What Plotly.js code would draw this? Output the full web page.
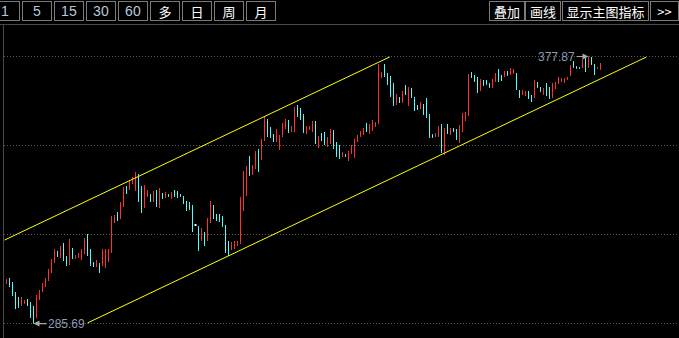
<!DOCTYPE html>
<html>
<head>
<meta charset="utf-8">
<script src="https://cdn.plot.ly/plotly-3.0.1.min.js"></script>
<style>
html,body{margin:0;padding:0;background:#000;}
#chart{width:679px;height:338px;}
</style>
</head>
<body>
<div id="chart"></div>
<script>
// ---- data (prices) ----
const open = [
299.6,300.9,299.5,296.0,294.4,292.2,292.7,293.8,292.7,291.2,
288.2,294.3,297.0,298.8,300.9,303.6,307.1,310.3,308.8,313.0,
308.5,306.5,311.3,308.2,308.6,308.1,310.2,315.9,310.9,306.6,
305.6,306.1,306.1,305.4,307.4,310.6,320.8,323.7,322.2,326.4,
332.7,332.2,334.2,332.0,336.8,332.6,326.1,329.7,330.0,328.1,
331.3,326.1,330.4,329.4,330.1,329.0,331.4,331.1,330.1,329.3,
327.6,327.2,326.0,319.7,318.8,314.6,316.8,314.7,320.9,326.1,
323.1,323.1,322.3,319.1,313.7,311.5,311.8,312.8,313.7,325.1,
330.2,343.0,337.3,339.5,345.4,342.6,349.2,355.8,353.1,350.7,
348.8,346.1,350.6,353.3,355.5,352.2,352.3,360.6,359.6,357.5,
351.5,352.8,352.2,355.1,346.7,351.1,351.3,347.0,348.1,352.0,
347.9,346.8,343.5,344.0,342.2,344.6,343.4,348.7,350.4,351.1,
354.5,351.5,352.6,353.8,355.1,370.8,374.8,371.7,370.6,368.2,
361.6,363.6,362.3,367.6,361.3,366.6,363.4,360.8,360.1,361.0,
363.0,357.5,350.9,350.4,350.5,354.0,344.4,354.1,351.1,352.9,
352.4,348.5,352.3,356.0,357.8,372.2,371.1,370.3,366.4,369.4,
369.4,368.4,367.4,369.5,373.1,371.1,371.2,372.5,371.8,372.1,
371.7,366.0,364.9,364.5,365.6,364.2,364.0,368.7,367.0,364.9,
368.3,366.9,364.0,367.0,368.7,369.3,369.0,370.0,371.5,376.0,
374.4,374.1,374.2,377.2,374.3,377.3,374.9,373.7,373.5];
const high = [
301.07,301.42,300.03,296.58,294.86,294.86,293.82,294.17,293.13,291.75,
295.55,297.27,299.69,301.42,304.52,307.97,311.43,310.74,312.46,313.50,
309.01,314.88,311.77,309.35,310.04,311.43,315.22,316.60,311.43,306.94,
307.63,306.59,311.43,311.43,311.43,322.82,323.16,324.20,327.65,332.83,
333.17,335.24,336.28,338.01,337.32,333.17,333.52,331.79,330.41,331.45,
331.79,332.48,330.76,331.10,330.41,331.10,331.79,331.45,330.41,329.72,
328.00,327.65,326.61,319.71,319.37,318.67,317.29,322.13,328.00,326.61,
323.51,323.51,322.82,319.71,314.19,313.84,314.19,314.19,329.38,338.35,
340.08,343.53,340.42,345.25,345.95,349.40,356.99,356.30,353.54,351.12,
352.85,350.78,354.92,356.30,355.96,353.88,360.44,361.13,360.10,358.03,
353.88,353.88,355.61,355.61,350.43,351.47,351.81,350.09,352.85,352.50,
348.36,347.33,344.91,344.22,345.25,347.33,349.40,350.78,352.16,353.19,
354.92,354.58,355.96,355.27,375.29,372.53,375.29,372.18,371.15,368.73,
364.93,363.90,365.97,368.04,367.35,367.00,363.90,361.13,362.17,361.48,
363.55,358.03,351.12,351.47,353.88,354.58,353.19,354.58,353.19,353.19,
352.85,354.23,358.37,358.72,371.84,372.53,371.49,370.80,370.11,369.76,
369.76,368.73,370.11,372.18,373.56,371.49,372.87,372.87,373.91,373.56,
372.18,366.31,366.31,365.97,365.97,364.59,369.76,369.07,367.35,367.00,
368.73,367.35,368.73,369.07,370.80,370.46,370.46,370.80,374.94,376.32,
374.60,374.25,377.01,377.70,377.87,377.70,375.29,374.25,375.63];
const low = [
299.34,298.31,295.20,290.71,291.06,291.75,292.44,291.75,287.61,285.69,
287.61,293.82,296.58,298.31,300.38,303.14,306.59,308.66,308.32,307.28,
305.56,305.90,307.97,307.97,308.32,307.63,309.70,309.01,305.56,305.21,
305.21,303.14,305.56,304.87,306.94,310.04,320.40,321.09,321.78,325.92,
330.41,331.79,333.86,331.45,327.65,323.85,325.58,329.38,327.65,327.65,
325.92,325.58,328.69,329.03,329.38,328.69,329.38,329.03,329.38,326.96,
324.54,324.89,317.29,319.71,310.74,314.19,312.46,314.19,320.40,321.78,
321.09,320.75,319.02,310.04,309.01,311.08,311.43,312.46,313.15,324.54,
329.72,336.63,336.97,339.04,338.01,342.15,348.71,350.09,349.74,348.36,
348.36,345.60,350.09,352.85,351.47,351.81,351.81,356.99,355.96,351.47,
351.12,352.50,351.81,347.67,346.29,348.71,347.33,346.64,347.67,345.95,
343.18,342.49,343.18,343.18,341.80,344.22,342.84,348.36,350.09,350.78,
351.81,351.12,352.16,353.54,354.58,370.46,370.80,368.04,363.90,360.79,
361.13,361.82,361.82,364.59,360.79,363.55,359.06,359.41,359.75,357.68,
356.65,349.74,349.74,350.09,350.09,344.56,343.87,351.12,350.78,351.81,
349.05,348.02,351.81,355.61,357.34,370.46,369.07,365.28,365.97,367.69,
368.04,367.00,367.00,369.07,369.07,369.42,370.80,371.15,371.49,371.84,
366.31,363.55,364.59,364.24,363.21,362.17,363.55,367.00,365.62,364.59,
364.24,363.21,363.55,366.66,368.38,369.07,368.73,369.76,371.15,373.91,
373.56,373.56,373.91,372.53,373.91,374.94,371.49,373.56,373.22];
const close = [
300.8,298.8,295.8,291.4,291.6,294.3,293.5,292.1,288.2,286.4,
295.0,296.8,299.2,300.9,304.0,307.4,310.9,309.1,311.9,307.8,
306.1,314.2,308.5,309.1,309.8,310.9,314.7,309.6,306.1,305.5,
307.2,303.6,310.9,310.9,310.9,322.2,322.7,321.5,327.1,332.3,
330.8,334.8,335.9,337.4,328.3,324.5,332.9,331.4,328.1,331.0,
326.5,332.0,329.0,330.7,329.6,330.8,329.7,329.4,329.6,327.4,
325.0,325.3,318.0,319.7,311.3,318.2,313.0,321.6,327.4,322.3,
321.5,321.2,319.5,310.7,309.5,313.4,313.8,313.9,328.8,337.8,
339.5,337.1,340.0,344.7,338.6,348.9,356.4,350.6,350.2,348.8,
352.4,350.3,354.4,355.8,352.0,353.5,359.9,357.5,356.4,352.0,
353.5,353.6,355.1,348.2,350.0,349.1,347.8,349.7,352.4,346.5,
343.7,343.0,344.6,343.4,344.8,346.9,348.9,350.4,351.8,352.8,
352.2,354.1,355.5,355.0,374.6,372.2,371.3,368.5,364.5,361.3,
364.5,362.2,365.5,365.0,366.8,364.0,359.5,359.7,361.8,358.1,
357.2,350.3,350.0,351.2,353.4,345.1,352.7,351.5,352.8,352.1,
349.5,353.7,357.8,358.3,371.3,370.8,369.4,365.8,369.7,368.0,
368.3,367.3,369.7,371.8,369.5,369.8,372.5,371.4,373.6,373.3,
366.8,364.0,366.0,365.7,363.6,362.5,369.2,367.3,365.9,366.7,
364.7,363.6,368.3,368.8,370.5,370.2,370.2,370.6,374.6,374.2,
373.8,373.7,376.7,373.0,377.3,375.3,371.9,374.1,375.3];

// channel lines (bar index, price)
const upperX = [-0.67, 127.7];
const upperY = [314.5, 377.7];
const lowerX = [27.0, 213.3];
const lowerY = [285.9, 377.7];

// dotted price grid levels
const gridPrices = [285.69, 316.42, 347.14, 377.87];

// extreme labels
const highIdx = 194, highLabel = '377.87';
const lowIdx = 9, lowLabel = '285.69';

// toolbar
const tbLabels = ['1','5','15','30','60','多','日','周','月','叠加','画线','显示主图指标','>>'];
const tbLeft   = [-10,22,54,86,118,150,182,214,246,489,525,562,650];
const tbWidth  = [30,30,30,30,30,30,30,30,30,36,36,87,29];

// ---- build ----
const idx = open.map((_, i) => i);
const dojiX = [], dojiY = [];
idx.forEach(i => { if (open[i] === close[i] && high[i] === low[i]) { dojiX.push(i); dojiY.push(close[i]); } });

const W = 679, H = 338, ML = 4, MT = 25;
const PW = W - ML, PH = H - MT;

const traces = [
  {
    type: 'candlestick', x: idx, open: open, high: high, low: low, close: close,
    increasing: {line: {color: '#ff3232', width: 1}, fillcolor: '#ff3232'},
    decreasing: {line: {color: '#54ffff', width: 1}, fillcolor: '#54ffff'},
    whiskerwidth: 0, hoverinfo: 'skip', showlegend: false
  },
  {
    type: 'scatter', mode: 'markers', x: dojiX, y: dojiY,
    marker: {symbol: 'square', size: 2, color: '#ffffff', line: {width: 0}},
    hoverinfo: 'skip', showlegend: false
  },
  {
    type: 'scatter', mode: 'lines', x: upperX, y: upperY,
    line: {color: '#ffff00', width: 1}, hoverinfo: 'skip', showlegend: false
  },
  {
    type: 'scatter', mode: 'lines', x: lowerX, y: lowerY,
    line: {color: '#ffff00', width: 1}, hoverinfo: 'skip', showlegend: false
  }
];

const annotations = [];
tbLabels.forEach((t, k) => {
  const isNum = /^[0-9]+$/.test(t);
  annotations.push({
    xref: 'paper', yref: 'paper',
    x: (tbLeft[k] - ML) / PW, y: (H - 1) / PH,
    xanchor: 'left', yanchor: 'top',
    text: t, showarrow: false,
    width: tbWidth[k] - 2, height: 18,
    align: 'center', valign: 'middle',
    bgcolor: '#000000', bordercolor: '#7a7a7a', borderwidth: 1, borderpad: 0,
    font: {family: isNum ? 'Liberation Sans, Arial, sans-serif' : '"Noto Sans CJK SC", sans-serif',
           size: isNum ? 14 : 13, color: isNum ? '#b8c8d8' : '#ffffff'}
  });
});
annotations.push({
  x: highIdx, y: high[highIdx], xref: 'x', yref: 'y', text: highLabel,
  showarrow: true, ax: -32, ay: 0, arrowhead: 2, arrowsize: 1, arrowwidth: 1.2,
  arrowcolor: '#a8a8a8', standoff: 0,
  font: {family: 'Liberation Sans, Arial, sans-serif', size: 12, color: '#8f9cb2'}
});
annotations.push({
  x: lowIdx, y: low[lowIdx], xref: 'x', yref: 'y', text: lowLabel,
  showarrow: true, ax: 33, ay: 0, arrowhead: 2, arrowsize: 1, arrowwidth: 1.2,
  arrowcolor: '#a8a8a8', standoff: 0,
  font: {family: 'Liberation Sans, Arial, sans-serif', size: 12, color: '#8f9cb2'}
});

const layout = {
  width: W, height: H,
  margin: {l: ML, r: 0, t: MT, b: 0, pad: 0},
  paper_bgcolor: '#000000', plot_bgcolor: '#000000',
  showlegend: false, hovermode: false, dragmode: false,
  boxgap: 1,
  xaxis: {
    range: [-0.8333, -0.8333 + PW / 3], showgrid: false, zeroline: false,
    showticklabels: false, ticks: '', showline: false,
    rangeslider: {visible: false}, fixedrange: true
  },
  yaxis: {
    range: [280.70, 388.75], showgrid: true, gridcolor: '#585858', gridwidth: 1,
    griddash: '1px,2px', tickmode: 'array', tickvals: gridPrices,
    showticklabels: false, ticks: '', zeroline: false,
    showline: true, linecolor: '#4a4a4a', linewidth: 1, fixedrange: true
  },
  shapes: [
    {type: 'line', xref: 'paper', yref: 'paper', x0: -ML / PW, x1: 1,
     y0: (H - 24.5) / PH, y1: (H - 24.5) / PH, line: {color: '#4a4a4a', width: 1}}
  ],
  annotations: annotations
};

Plotly.newPlot('chart', traces, layout, {staticPlot: true, displayModeBar: false});
</script>
</body>
</html>
